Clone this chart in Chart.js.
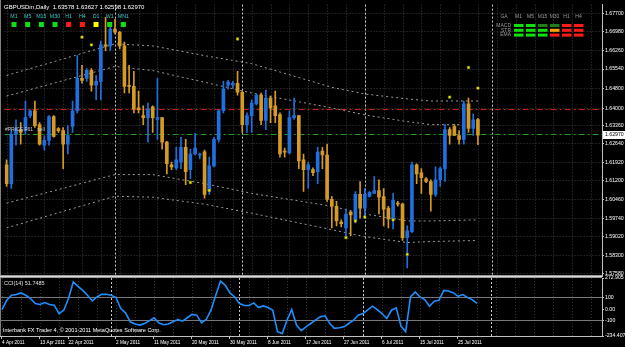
<!DOCTYPE html>
<html><head><meta charset="utf-8">
<script src="https://cdn.jsdelivr.net/npm/chart.js@4.4.1/dist/chart.umd.min.js"></script>
<style>
html,body{margin:0;padding:0;background:#000;}
#wrap{position:relative;width:625px;height:347px;background:#000;overflow:hidden;}
canvas{position:absolute;left:0;}
#c1{top:0;}
#c2{top:270px;}
</style></head><body>
<div id="wrap"><canvas id="c1" width="625" height="282"></canvas><canvas id="c2" width="625" height="77"></canvas></div>
<script>
// ---------------- data ----------------
const symbolTitle = 'GBPUSDm,Daily  1.63578 1.63627 1.62598 1.62970';
const opens  = [1.6182,1.6109,1.6300,1.6319,1.6315,1.6373,1.6392,1.6338,1.6258,1.6277,1.6369,1.6323,1.6315,1.6262,1.6331,1.6392,1.6518,1.6518,1.6549,1.6491,1.6506,1.6648,1.6644,1.6709,1.6697,1.6644,1.6491,1.6487,1.6403,1.6373,1.6365,1.6407,1.6358,1.6365,1.6270,1.6182,1.6170,1.6193,1.6250,1.6163,1.6224,1.6220,1.6232,1.6082,1.6178,1.6281,1.6392,1.6491,1.6491,1.6499,1.6464,1.6338,1.6373,1.6419,1.6453,1.6354,1.6441,1.6411,1.6377,1.6235,1.6228,1.6365,1.6373,1.6201,1.6163,1.6163,1.6155,1.6235,1.6220,1.6048,1.6021,1.5960,1.5937,1.5998,1.5968,1.6067,1.6014,1.6059,1.6071,1.6082,1.6059,1.6014,1.5972,1.6033,1.6029,1.5899,1.5922,1.6182,1.6151,1.6128,1.6117,1.6067,1.6124,1.6167,1.6319,1.6331,1.6296,1.6281,1.6419,1.6323,1.63578];
const highs  = [1.6201,1.6319,1.6357,1.6346,1.6430,1.6396,1.6430,1.6346,1.6296,1.6373,1.6373,1.6327,1.6327,1.6334,1.6430,1.6606,1.6568,1.6556,1.6556,1.6529,1.6663,1.6755,1.6728,1.6747,1.6701,1.6659,1.6568,1.6545,1.6468,1.6411,1.6422,1.6411,1.6518,1.6365,1.6273,1.6193,1.6250,1.6289,1.6281,1.6243,1.6304,1.6228,1.6239,1.6212,1.6289,1.6396,1.6506,1.6510,1.6506,1.6545,1.6468,1.6384,1.6434,1.6457,1.6461,1.6472,1.6449,1.6468,1.6384,1.6247,1.6392,1.6441,1.6373,1.6224,1.6193,1.6170,1.6250,1.6250,1.6262,1.6059,1.6040,1.5968,1.6010,1.6002,1.6078,1.6117,1.6090,1.6078,1.6136,1.6124,1.6090,1.6021,1.6071,1.6040,1.6033,1.5945,1.6193,1.6186,1.6167,1.6132,1.6124,1.6174,1.6174,1.6338,1.6327,1.6338,1.6315,1.6430,1.6441,1.6380,1.63627];
const lows   = [1.6098,1.6090,1.6258,1.6262,1.6300,1.6365,1.6327,1.6258,1.6239,1.6258,1.6289,1.6308,1.6167,1.6224,1.6308,1.6384,1.6499,1.6506,1.6468,1.6434,1.6434,1.6625,1.6625,1.6690,1.6632,1.6461,1.6461,1.6384,1.6384,1.6338,1.6270,1.6308,1.6281,1.6243,1.6147,1.6163,1.6163,1.6167,1.6105,1.6128,1.6220,1.6205,1.6052,1.6067,1.6174,1.6270,1.6384,1.6476,1.6480,1.6453,1.6308,1.6308,1.6308,1.6415,1.6338,1.6319,1.6346,1.6346,1.6212,1.6212,1.6224,1.6358,1.6167,1.6079,1.6090,1.6140,1.6109,1.6167,1.6040,1.5937,1.5945,1.5941,1.5899,1.5907,1.5956,1.5975,1.5975,1.6056,1.6071,1.5991,1.5945,1.5937,1.5933,1.6021,1.5888,1.5781,1.5918,1.6109,1.6071,1.6113,1.6002,1.6059,1.6098,1.6117,1.6262,1.6296,1.6262,1.6262,1.6308,1.6296,1.62598];
const closes = [1.6109,1.6300,1.6323,1.6308,1.6365,1.6392,1.6334,1.6262,1.6277,1.6369,1.6292,1.6315,1.6262,1.6296,1.6392,1.6518,1.6510,1.6549,1.6491,1.6506,1.6648,1.6643,1.6709,1.6697,1.6644,1.6487,1.6487,1.6399,1.6396,1.6365,1.6399,1.6365,1.6365,1.6270,1.6186,1.6174,1.6201,1.6250,1.6155,1.6224,1.6247,1.6224,1.6067,1.6178,1.6281,1.6392,1.6476,1.6503,1.6499,1.6464,1.6338,1.6373,1.6422,1.6453,1.6354,1.6441,1.6403,1.6373,1.6224,1.6231,1.6365,1.6373,1.6197,1.6163,1.6182,1.6151,1.6231,1.6220,1.6048,1.6021,1.5964,1.5953,1.5991,1.5987,1.6067,1.6014,1.6067,1.6075,1.6082,1.6056,1.6010,1.5972,1.6044,1.6029,1.5899,1.5926,1.6182,1.6147,1.6132,1.6117,1.6067,1.6124,1.6167,1.6319,1.6296,1.6296,1.6281,1.6419,1.6323,1.6357,1.62970];
const cciValues = [-3,78,122,128,142,122,93,49,41,58,41,35,-38,-9,93,238,200,165,122,72,107,130,130,122,102,6,-32,-110,-130,-139,-125,-102,-75,-119,-136,-130,-110,-90,-104,-75,-46,-52,-119,-90,-9,122,246,209,142,107,49,32,32,55,14,29,14,-9,-197,-212,-96,-3,-139,-188,-154,-125,-96,-67,-58,-125,-168,-162,-154,-125,-96,-52,-38,-6,26,-3,-38,-81,-9,12,-148,-197,107,151,107,84,26,70,78,165,159,145,113,128,102,84,51.7485];
const cciLabel = 'CCI(14) 51.7485';
const copyright = 'Interbank FX Trader 4, \u00A9 2001-2011 MetaQuotes Software Corp.';

// envelope / channel lines (bar index -> price)
const envIdx = [0,23,31,42,52,69,76,85,90,100];
const envUpper1 = [1.6529,1.6652,1.6644,1.6606,1.6575,1.6483,1.6457,1.6438,1.6430,1.6430];
const envUpper2 = [1.6449,1.6564,1.6548,1.6503,1.6461,1.6403,1.6376,1.6350,1.6338,1.6338];
const envLower1 = [1.6033,1.6144,1.6144,1.6109,1.6071,1.6021,1.5991,1.5964,1.5964,1.5968];
const envLower2 = [1.5937,1.6060,1.6056,1.6029,1.5994,1.5930,1.5903,1.5880,1.5884,1.5888];

// yellow signal markers
const markIdx = [16,18,49,39,43,72,74,76,82,85,94,98,100];
const markPrice = [1.6678,1.6648,1.6671,1.6113,1.6082,1.5899,1.5964,1.5979,1.5968,1.5834,1.6445,1.6560,1.6480];

// horizontal levels
const redLevel = 1.64000;
const greenLevel = 1.6303;

// axes
const priceTicks = [1.67700,1.66980,1.66260,1.65540,1.64800,1.64000,1.63360,1.62640,1.61920,1.61200,1.60460,1.59740,1.59020,1.58300,1.57580];
const cciTicks = [272.905,100,0,-100,-234.407];
const cciTickLabels = ['272.905','100','0.00','-100','-234.407'];
const dateTickIdx = [0,8,14,24,32,40,48,56,64,72,80,88,96];
const dateTickLabels = ['4 Apr 2011','13 Apr 2011','22 Apr 2011','2 May 2011','11 May 2011','20 May 2011','30 May 2011','8 Jun 2011','17 Jun 2011','27 Jun 2011','6 Jul 2011','15 Jul 2011','25 Jul 2011'];
const monthStartIdx = [23,50,76,103];

// timeframe panel
const tfNames = ['M1','M5','M15','M30','H1','H4','D1','W1','MN1'];
const tfState = ['up','up','up','up','down','down','flat','up','up'];
const tableCols = ['M1','M5','M15','M30','H1','H4'];
const tableRows = ['MACD','STR','EMA'];
const tableState = [
  ['up','up','weak','weak','down','down'],
  ['up','up','up','mid','down','down'],
  ['up','up','up','down','down','down']
];

// ---------------- styles ----------------
const X_MIN = -0.421, X_MAX = 126.32;
const BLUE = '#1f6fe0', ORANGE = '#d49a25';
const FONT = '"Liberation Sans", Arial, sans-serif';
const stateColor = {up:'#10e010', down:'#ff1a1a', flat:'#ffff00', weak:'#1f7f1f', mid:'#ffa500'};

const idx = opens.map((_, i) => i);
const candleColor = idx.map(i => closes[i] >= opens[i] ? BLUE : ORANGE);
const envPts = arr => envIdx.map((x, k) => ({x, y: arr[k]}));

function drawVGrid(chart, dim){
  const {ctx, chartArea:a, scales:{x}} = chart;
  ctx.save();
  ctx.lineWidth = 1;
  ctx.setLineDash([1,2]);
  ctx.strokeStyle = dim;
  for (let v = 0; v <= X_MAX; v += 4) {
    const px = Math.round(x.getPixelForValue(v)) + 0.5;
    ctx.beginPath(); ctx.moveTo(px, a.top); ctx.lineTo(px, a.bottom); ctx.stroke();
  }
  ctx.setLineDash([2,2]);
  ctx.strokeStyle = '#c8c8c8';
  monthStartIdx.forEach(v => {
    const px = Math.round(x.getPixelForValue(v)) + 0.5;
    ctx.beginPath(); ctx.moveTo(px, a.top); ctx.lineTo(px, a.bottom); ctx.stroke();
  });
  ctx.restore();
}

const mainPlugin = {
  id: 'mainOverlay',
  beforeDatasetsDraw(chart){
    const {ctx, chartArea:a, scales:{y}} = chart;
    drawVGrid(chart, 'rgba(110,110,110,0.55)');
    ctx.save();
    ctx.lineWidth = 1;
    ctx.setLineDash([6,3,2,3]);
    ctx.strokeStyle = '#d01818';
    let py = Math.round(y.getPixelForValue(redLevel)) + 0.5;
    ctx.beginPath(); ctx.moveTo(a.left, py); ctx.lineTo(a.right, py); ctx.stroke();
    ctx.strokeStyle = '#1f9a1f';
    py = Math.round(y.getPixelForValue(greenLevel)) + 0.5;
    ctx.beginPath(); ctx.moveTo(a.left, py); ctx.lineTo(a.right, py); ctx.stroke();
    ctx.restore();
  },
  afterDraw(chart){
    const {ctx, chartArea:a, scales:{y}} = chart;
    ctx.save();
    ctx.fillStyle = '#808080';
    ctx.fillRect(0, 0, 1, a.bottom);
    ctx.textBaseline = 'middle';
    ctx.font = '6px ' + FONT;
    ctx.fillStyle = '#ffffff';
    ctx.textAlign = 'left';
    ctx.fillText(symbolTitle, 4, 7);
    tfNames.forEach((n, k) => {
      const cx = 14 + k * 13.67;
      ctx.fillStyle = '#3fc6c6';
      ctx.textAlign = 'center';
      ctx.font = '5.3px ' + FONT;
      ctx.fillText(n, cx, 17);
      ctx.fillStyle = stateColor[tfState[k]];
      ctx.fillRect(cx - 2.5, 22, 5, 5);
    });
    ctx.font = '5px ' + FONT;
    ctx.fillStyle = '#9a9a9a';
    ctx.textAlign = 'center';
    ctx.fillText('GA', 504, 17);
    tableCols.forEach((c, k) => ctx.fillText(c, 518.5 + k * 12, 17));
    ctx.textAlign = 'right';
    tableRows.forEach((r, ri) => {
      ctx.fillStyle = '#9a9a9a';
      ctx.fillText(r, 511, 25.5 + ri * 4.8);
      tableState[ri].forEach((s, k) => {
        ctx.fillStyle = stateColor[s];
        ctx.fillRect(514 + k * 12, 24 + ri * 4.8, 9.5, 3);
      });
    });
    ctx.font = '5px ' + FONT;
    ctx.textAlign = 'left';
    ctx.fillStyle = '#c8c8c8';
    ctx.fillText('#PRICE F61   sell', 5, Math.round(y.getPixelForValue(greenLevel)) - 4);
    const py = Math.round(y.getPixelForValue(closes[closes.length - 1]));
    ctx.fillStyle = '#ffffff';
    ctx.fillRect(a.right + 1, py - 4, 625 - a.right - 1, 8);
    ctx.fillStyle = '#000000';
    ctx.font = '5.2px ' + FONT;
    ctx.fillText(closes[closes.length - 1].toFixed(5), a.right + 3, py);
    ctx.restore();
  }
};

const cciPlugin = {
  id: 'cciOverlay',
  beforeDatasetsDraw(chart){
    drawVGrid(chart, 'rgba(110,110,110,0.45)');
  },
  afterDraw(chart){
    const {ctx, chartArea:a} = chart;
    ctx.save();
    ctx.fillStyle = '#9c9c9c';
    ctx.fillRect(0, a.top - 3, a.right, 3);
    ctx.fillStyle = '#d8d8d8';
    ctx.fillRect(0, a.top - 2, a.right, 1);
    ctx.fillStyle = '#808080';
    ctx.fillRect(0, a.top, 1, a.bottom - a.top);
    ctx.textBaseline = 'middle';
    ctx.textAlign = 'left';
    ctx.font = '5.5px ' + FONT;
    ctx.fillStyle = '#e0e0e0';
    ctx.fillText(cciLabel, 4, a.top + 5);
    ctx.fillStyle = '#ffffff';
    ctx.fillText(copyright, 3, a.bottom - 6);
    ctx.restore();
  }
};

const noPad = s => { s.paddingTop = 0; s.paddingBottom = 0; s.paddingLeft = 0; s.paddingRight = 0; };

new Chart(document.getElementById('c1'), {
  data: {
    datasets: [
      {type:'line', data: envPts(envUpper1), borderColor:'#9a9a9a', borderWidth:1, borderDash:[2,3], pointRadius:0, order:10},
      {type:'line', data: envPts(envUpper2), borderColor:'#9a9a9a', borderWidth:1, borderDash:[2,3], pointRadius:0, order:10},
      {type:'line', data: envPts(envLower1), borderColor:'#9a9a9a', borderWidth:1, borderDash:[2,3], pointRadius:0, order:10},
      {type:'line', data: envPts(envLower2), borderColor:'#9a9a9a', borderWidth:1, borderDash:[2,3], pointRadius:0, order:10},
      {type:'bar', data: idx.map(i => ({x:i, y:[lows[i], highs[i]]})), backgroundColor: candleColor, barThickness:1, grouped:false, order:5},
      {type:'bar', data: idx.map(i => ({x:i, y:[opens[i], closes[i]]})), backgroundColor: candleColor, barThickness:3, minBarLength:1, grouped:false, order:4},
      {type:'scatter', data: markIdx.map((x, k) => ({x, y: markPrice[k]})), pointStyle:'rect', pointRadius:1.7, backgroundColor:'#ffff00', borderColor:'#8a8a00', borderWidth:0.6, order:1}
    ]
  },
  options: {
    responsive:false, animation:false, devicePixelRatio:1,
    layout: {padding: {left:0, right:0, top:0, bottom:6}},
    plugins: {legend:{display:false}, tooltip:{enabled:false}},
    scales: {
      x: {type:'linear', min:X_MIN, max:X_MAX, offset:false, display:false},
      y: {
        type:'linear', position:'right', min:1.575006, max:1.680438,
        afterBuildTicks: s => { s.ticks = priceTicks.map(v => ({value:v})); },
        afterFit: s => { s.width = 23; noPad(s); },
        ticks: {color:'#ffffff', font:{size:5.2, family:FONT}, padding:1, callback: v => v.toFixed(5)},
        grid: {color:'rgba(110,110,110,0.55)', tickColor:'#c0c0c0', tickLength:2, lineWidth:1, borderDash:[1,2]},
        border: {display:true, color:'#c0c0c0', dash:[1,2]}
      }
    }
  },
  plugins: [mainPlugin]
});

new Chart(document.getElementById('c2'), {
  data: {
    datasets: [
      {type:'line', data: idx.map(i => ({x:i, y:cciValues[i]})), borderColor:'#1e8fff', borderWidth:1.6, pointRadius:0, tension:0}
    ]
  },
  options: {
    responsive:false, animation:false, devicePixelRatio:1,
    layout: {padding: {left:0, right:0, top:8, bottom:0}},
    plugins: {legend:{display:false}, tooltip:{enabled:false}},
    scales: {
      x: {
        type:'linear', min:X_MIN, max:X_MAX, offset:false, position:'bottom',
        afterBuildTicks: s => { s.ticks = dateTickIdx.map(v => ({value:v})); },
        afterFit: s => { s.height = 11; noPad(s); },
        ticks: {color:'#ffffff', font:{size:4.7, family:FONT}, padding:1, align:'start', autoSkip:false, maxRotation:0, minRotation:0,
                callback: (v, k) => dateTickLabels[k]},
        grid: {drawOnChartArea:false, drawTicks:true, tickLength:3, tickColor:'#c0c0c0'},
        border: {display:true, color:'#c0c0c0'}
      },
      y: {
        type:'linear', position:'right', min:-234.407, max:272.905,
        afterBuildTicks: s => { s.ticks = cciTicks.map(v => ({value:v})); },
        afterFit: s => { s.width = 23; noPad(s); },
        ticks: {color:'#ffffff', font:{size:5.2, family:FONT}, padding:1, callback: (v, k) => cciTickLabels[k]},
        grid: {color: c => (c.tick && Math.abs(c.tick.value) === 100) ? 'rgba(150,150,150,0.8)' : 'rgba(0,0,0,0)', tickColor:'#c0c0c0', tickLength:2, borderDash:[1,2]},
        border: {display:true, color:'#c0c0c0'}
      }
    }
  },
  plugins: [cciPlugin]
});
</script>
</body></html>
